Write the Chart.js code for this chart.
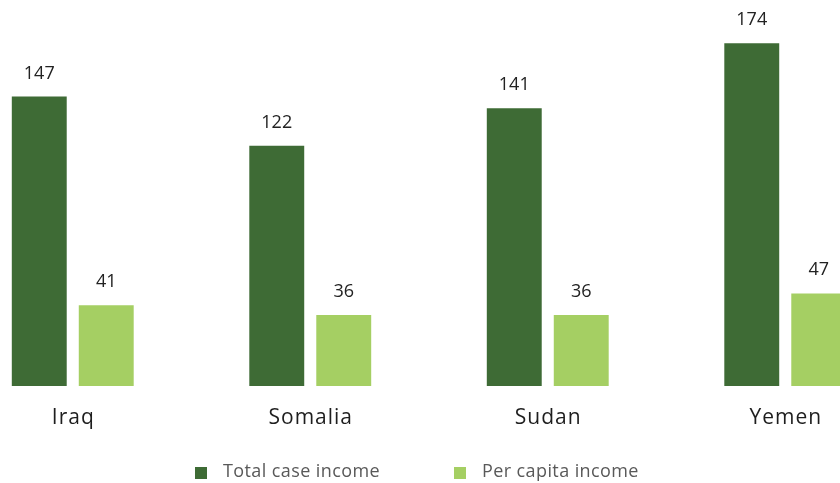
<!DOCTYPE html>
<html>
<head>
<meta charset="utf-8">
<script src="https://cdn.jsdelivr.net/npm/chart.js@4"></script>
<style>
  html, body { margin: 0; padding: 0; background: #fff; overflow: hidden; }
  #wrap { position: relative; width: 840px; height: 483px; overflow: hidden; }
  #myChart { position: absolute; left: -46px; top: 0; }
</style>
</head>
<body>
<div id="wrap">
  <canvas id="myChart" width="950" height="483"></canvas>
</div>
<script>
// data
const categories = ["Iraq", "Somalia", "Sudan", "Yemen"];
const totalCaseIncome = [147, 122, 141, 174];
const perCapitaIncome = [41, 36, 36, 47];
const seriesNames = ["Total case income", "Per capita income"];
const seriesColors = ["#3e6b35", "#a5cf63"];

const FONT = "'Open Sans', sans-serif";
const SHIFT = 46; // canvas sits 46px left of the page

// value labels, spaced category names and the bottom legend
const labelsPlugin = {
    id: 'labelsPlugin',
    afterDatasetsDraw(chart) {
        const ctx = chart.ctx;
        ctx.save();
        ctx.textAlign = 'center';
        ctx.textBaseline = 'alphabetic';

        // values above bars
        ctx.font = '18px ' + FONT;
        ctx.fillStyle = '#222222';
        chart.data.datasets.forEach(function(ds, di) {
            chart.getDatasetMeta(di).data.forEach(function(bar, i) {
                ctx.fillText(String(ds.data[i]), bar.x, bar.y - 18);
            });
        });

        // category names
        const xScale = chart.scales.x;
        ctx.font = '21px ' + FONT;
        ctx.letterSpacing = '1px';
        ctx.fillStyle = '#1e1e1e';
        categories.forEach(function(c, i) {
            ctx.fillText(c, xScale.getPixelForValue(i) + 0.5, 424);
        });
        ctx.letterSpacing = '0px';

        // legend, centred on the visible page
        ctx.font = '18px ' + FONT;
        ctx.letterSpacing = '0.4px';
        ctx.textAlign = 'left';
        const box = 12, gap = 16, itemGap = 74;
        const widths = seriesNames.map(n => ctx.measureText(n).width);
        const total = widths.reduce((a, w) => a + box + gap + w, 0) + itemGap * (seriesNames.length - 1);
        let x = Math.round(417 + SHIFT - total / 2);
        seriesNames.forEach(function(n, i) {
            ctx.fillStyle = seriesColors[i];
            ctx.fillRect(x, 467, box, box);
            ctx.fillStyle = '#595959';
            ctx.fillText(n, x + box + gap, 477);
            x = Math.round(x + box + gap + widths[i] + itemGap);
        });
        ctx.restore();
    }
};

new Chart("myChart", {
    type: "bar",
    data: {
        labels: categories,
        datasets: [{
            label: seriesNames[0],
            data: totalCaseIncome,
            backgroundColor: seriesColors[0],
            borderWidth: 0
        }, {
            label: seriesNames[1],
            data: perCapitaIncome,
            backgroundColor: seriesColors[1],
            borderWidth: 0
        }]
    },
    options: {
        responsive: false,
        devicePixelRatio: 1,
        animation: false,
        categoryPercentage: 0.564,
        barPercentage: 0.82,
        layout: { padding: { top: 0, bottom: 97, left: 0, right: 0 } },
        scales: {
            x: { display: false },
            y: { display: false, min: 0, max: 196 }
        },
        plugins: {
            legend: { display: false },
            tooltip: { enabled: false }
        }
    },
    plugins: [labelsPlugin]
});
</script>
</body>
</html>
